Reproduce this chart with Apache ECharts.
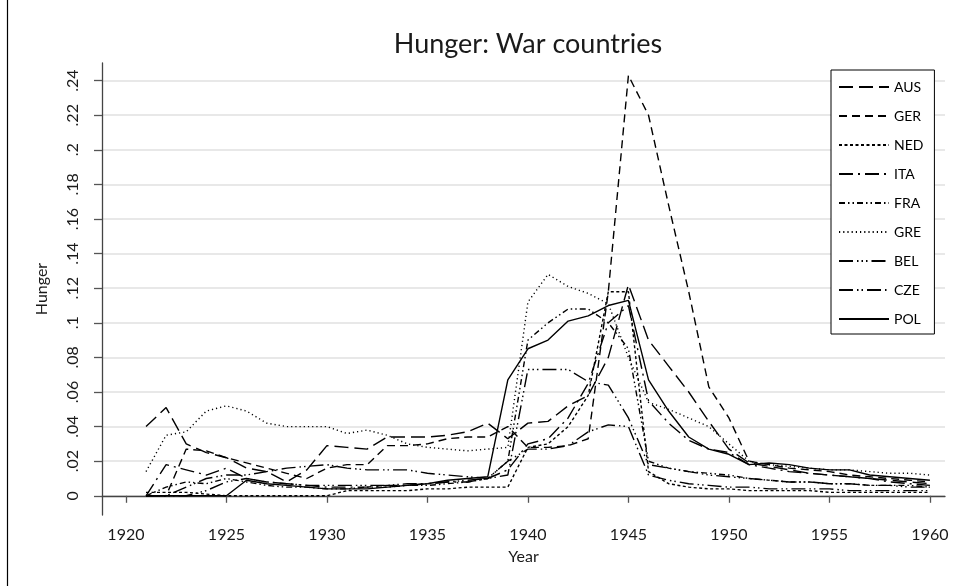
<!DOCTYPE html>
<html>
<head>
<meta charset="utf-8">
<script src="https://cdn.jsdelivr.net/npm/echarts@6/dist/echarts.min.js"></script>
<style>
html,body{margin:0;padding:0;background:#fff;}
#chart{width:957px;height:586px;}
</style>
</head>
<body>
<div id="chart"></div>
<script>
const years = [1921,1922,1923,1924,1925,1926,1927,1928,1929,1930,1931,1932,1933,1934,1935,1936,1937,1938,1939,1940,1941,1942,1943,1944,1945,1946,1947,1948,1949,1950,1951,1952,1953,1954,1955,1956,1957,1958,1959,1960];
const xTicks = [1920,1925,1930,1935,1940,1945,1950,1955,1960];
const yTicks = [0,0.02,0.04,0.06,0.08,0.10,0.12,0.14,0.16,0.18,0.20,0.22,0.24];
const countries = ['AUS','GER','NED','ITA','FRA','GRE','BEL','CZE','POL'];

const AUS = [.040,.051,.030,.025,.022,.016,.014,.008,.015,.029,.028,.027,.034,.034,.034,.035,.037,.042,.033,.042,.043,.052,.058,.080,.122,.090,.075,.060,.043,.027,.019,.017,.015,.013,.012,.011,.010,.009,.008,.007];
const GER = [.000,.000,.027,.026,.022,.019,.016,.013,.010,.016,.018,.018,.029,.029,.030,.033,.034,.034,.040,.028,.028,.029,.033,.118,.243,.220,.168,.118,.063,.045,.020,.018,.016,.015,.014,.012,.011,.010,.009,.008];
const NED = [.002,.002,.002,.001,.000,.000,.000,.000,.000,.000,.003,.003,.003,.003,.004,.004,.005,.005,.005,.028,.030,.040,.058,.118,.118,.014,.007,.005,.004,.004,.003,.003,.003,.003,.002,.002,.002,.002,.002,.002];
const ITA = [.000,.018,.015,.012,.016,.010,.008,.007,.006,.005,.005,.005,.006,.006,.007,.008,.008,.010,.015,.030,.033,.045,.065,.100,.110,.055,.042,.032,.027,.025,.018,.016,.014,.013,.012,.011,.010,.008,.007,.006];
const FRA = [.000,.005,.008,.007,.010,.008,.006,.005,.005,.004,.004,.005,.005,.006,.006,.007,.008,.010,.020,.090,.100,.108,.108,.100,.085,.020,.016,.014,.013,.012,.010,.009,.008,.008,.007,.007,.006,.006,.006,.005];
const GRE = [.014,.035,.037,.049,.052,.049,.042,.040,.040,.040,.036,.038,.035,.030,.028,.027,.026,.027,.028,.112,.128,.121,.117,.111,.080,.054,.050,.045,.040,.030,.020,.018,.017,.016,.015,.015,.014,.013,.013,.012];
const BEL = [.000,.000,.000,.003,.008,.010,.008,.007,.006,.006,.006,.006,.006,.007,.007,.008,.009,.010,.012,.073,.073,.073,.066,.064,.045,.018,.016,.014,.012,.011,.010,.009,.008,.008,.007,.007,.006,.006,.005,.005];
const CZE = [.000,.000,.005,.010,.012,.012,.014,.016,.017,.018,.016,.015,.015,.015,.013,.012,.011,.010,.020,.027,.027,.029,.037,.041,.040,.012,.009,.007,.006,.005,.005,.004,.004,.004,.004,.003,.003,.003,.003,.003];
const POL = [.000,.000,.000,.000,.000,.009,.007,.006,.005,.004,.004,.004,.005,.006,.007,.009,.010,.011,.067,.085,.090,.101,.104,.110,.113,.067,.049,.034,.027,.024,.018,.019,.018,.016,.015,.015,.012,.011,.010,.009];

const seriesValues = {AUS,GER,NED,ITA,FRA,GRE,BEL,CZE,POL};
const dashes = {
  AUS: [14,6],
  GER: [8,5],
  NED: [3,2.5],
  ITA: [14,5,2,5],
  FRA: [6,3,1.5,3,1.5,3],
  GRE: [1.2,3],
  BEL: [14,4,1.5,3,1.5,3,1.5,4],
  CZE: [14,4,1.5,3,1.5,4],
  POL: 'solid'
};

const FONT = 'Lato, "Open Sans", sans-serif';
const chart = echarts.init(document.getElementById('chart'), null, {renderer:'canvas'});

const series = countries.map(c => ({
  name: c,
  type: 'line',
  symbol: 'none',
  showSymbol: false,
  animation: false,
  data: years.map((y,i) => [y, seriesValues[c][i]]),
  lineStyle: {color:'#000', width:1.4, type: dashes[c]},
  itemStyle: {color:'#000'}
}));

function fmtY(v){
  if (Math.abs(v) < 1e-9) return '0';
  return (Math.round(v*100)/100).toFixed(2).replace(/0+$/,'').replace(/^0/,'');
}

chart.setOption({
  animation: false,
  backgroundColor: '#fff',
  title: {
    text: 'Hunger: War countries',
    left: 523, top: 26, textAlign: 'center',
    textStyle: {fontFamily: FONT, fontSize: 27, fontWeight: 'normal', color: '#1a1a1a'}
  },
  legend: {
    orient: 'vertical',
    left: 831, top: 70,
    data: countries,
    itemWidth: 50, itemHeight: 14, itemGap: 15,
    padding: [10, 11, 8, 7],
    borderColor: '#000', borderWidth: 1, backgroundColor: '#fff',
    itemStyle: {opacity: 0, borderWidth: 0},
    textStyle: {fontFamily: FONT, fontSize: 14, color: '#000'}
  },
  grid: {left: 102, right: 12, top: 63, bottom: 71, containLabel: false},
  xAxis: {
    type: 'value', min: 1918.81, max: 1960.75,
    name: 'Year', nameLocation: 'middle', nameGap: 34,
    nameTextStyle: {fontFamily: FONT, fontSize: 16, color: '#1a1a1a'},
    axisLine: {show: true, lineStyle: {color: '#444', width: 1.3}},
    axisTick: {show: true, length: 7, customValues: xTicks, lineStyle: {color: '#555', width: 1.3}},
    axisLabel: {customValues: xTicks, fontFamily: FONT, fontSize: 16, color: '#1a1a1a', margin: 12, formatter: v => String(v)},
    splitLine: {show: false}
  },
  yAxis: {
    type: 'value', min: -0.0111, max: 0.2502,
    name: 'Hunger', nameLocation: 'middle', nameGap: 52,
    nameTextStyle: {fontFamily: FONT, fontSize: 16, color: '#1a1a1a'},
    axisLine: {show: true, lineStyle: {color: '#444', width: 1.3}},
    axisTick: {show: true, length: 8, customValues: yTicks, lineStyle: {color: '#555', width: 1.3}},
    axisLabel: {customValues: yTicks, rotate: 90, fontFamily: FONT, fontSize: 16, color: '#1a1a1a', margin: 21, formatter: fmtY},
    splitLine: {show: true, lineStyle: {color: '#e0e0e0', width: 1.5}}
  },
  graphic: [{
    type: 'line', shape: {x1: 7.5, y1: 0, x2: 7.5, y2: 586},
    style: {stroke: '#000', lineWidth: 1.2}, silent: true
  }],
  series: series
});
</script>
</body>
</html>
